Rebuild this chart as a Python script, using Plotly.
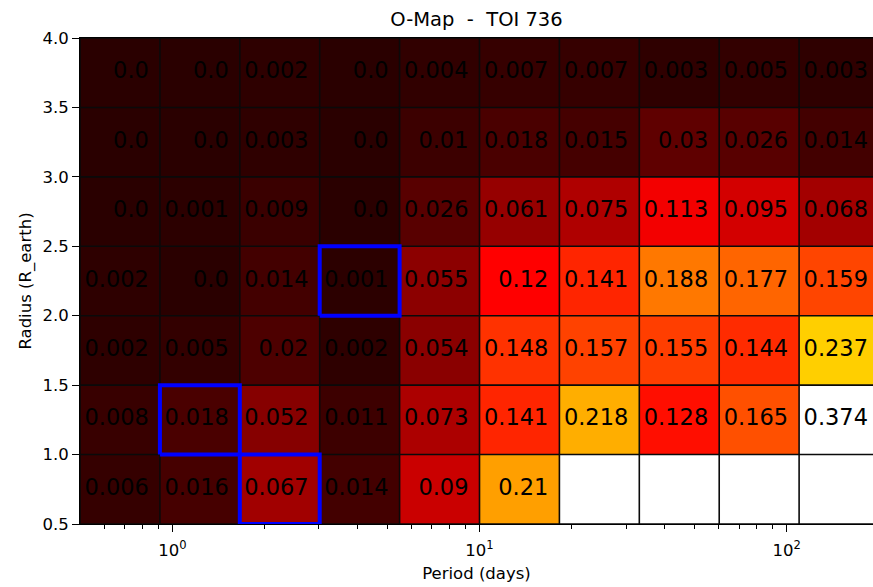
import numpy as np
import plotly.graph_objects as go

# ---- data ----
period_min = 0.5
period_max = 200.0
n_period_bins = 10
radius_edges = [0.5, 1.0, 1.5, 2.0, 2.5, 3.0, 3.5, 4.0]

# rows from bottom (0.5-1.0) to top (3.5-4.0); None = empty cell
row_0p5 = [0.006, 0.016, 0.067, 0.014, 0.09, 0.21, None, None, None, None]
row_1p0 = [0.008, 0.018, 0.052, 0.011, 0.073, 0.141, 0.218, 0.128, 0.165, 0.374]
row_1p5 = [0.002, 0.005, 0.02, 0.002, 0.054, 0.148, 0.157, 0.155, 0.144, 0.237]
row_2p0 = [0.002, 0.0, 0.014, 0.001, 0.055, 0.12, 0.141, 0.188, 0.177, 0.159]
row_2p5 = [0.0, 0.001, 0.009, 0.0, 0.026, 0.061, 0.075, 0.113, 0.095, 0.068]
row_3p0 = [0.0, 0.0, 0.003, 0.0, 0.01, 0.018, 0.015, 0.03, 0.026, 0.014]
row_3p5 = [0.0, 0.0, 0.002, 0.0, 0.004, 0.007, 0.007, 0.003, 0.005, 0.003]
z_rows = [row_0p5, row_1p0, row_1p5, row_2p0, row_2p5, row_3p0, row_3p5]

# highlighted cells: (period bin index, radius bin index)
highlight_cells = [(3, 3), (1, 1), (2, 0)]

x_tick_vals = [1, 10, 100]
x_tick_text = ["10<sup>0</sup>", "10<sup>1</sup>", "10<sup>2</sup>"]
y_tick_vals = [0.5, 1.0, 1.5, 2.0, 2.5, 3.0, 3.5, 4.0]
y_tick_text = ["0.5", "1.0", "1.5", "2.0", "2.5", "3.0", "3.5", "4.0"]

title_text = "O-Map  -  TOI 736"
x_label = "Period (days)"
y_label = "Radius (R_earth)"

# ---- build ----
period_edges = np.geomspace(period_min, period_max, n_period_bins + 1)
px_per_decade = 307.07
plot_w = 793
x_range = [np.log10(period_min), np.log10(period_min) + plot_w / px_per_decade]

hot = [
    [0.0, "rgb(10,0,0)"],
    [0.365079, "rgb(255,0,0)"],
    [0.746032, "rgb(255,255,0)"],
    [1.0, "rgb(255,255,255)"],
]

fig = go.Figure()
fig.add_trace(go.Heatmap(
    x=period_edges, y=radius_edges, z=z_rows,
    colorscale=hot, zmin=-0.018, zmax=0.36, showscale=False,
    hoverongaps=False,
))

# grid lines
gx, gy = [], []
for xe in period_edges:
    gx += [xe, xe, None]
    gy += [radius_edges[0], radius_edges[-1], None]
for ye in radius_edges:
    gx += [period_edges[0], period_edges[-1], None]
    gy += [ye, ye, None]
fig.add_trace(go.Scatter(x=gx, y=gy, mode="lines",
                         line=dict(color="#0a0a0a", width=1.6),
                         hoverinfo="skip", showlegend=False))

# cell labels (right aligned inside each cell)
offset = 10 ** (-11 / px_per_decade)
tx, ty, tt = [], [], []
for r, row in enumerate(z_rows):
    for c, v in enumerate(row):
        if v is None:
            continue
        tx.append(period_edges[c + 1] * offset)
        ty.append((radius_edges[r] + radius_edges[r + 1]) / 2)
        tt.append(str(round(v, 3)))
fig.add_trace(go.Scatter(x=tx, y=ty, text=tt, mode="text",
                         textposition="middle left", cliponaxis=False,
                         textfont=dict(family="DejaVu Sans", size=22.5, color="black"),
                         hoverinfo="skip", showlegend=False))

# highlight boxes
for c, r in highlight_cells:
    x0, x1 = period_edges[c], period_edges[c + 1]
    y0, y1 = radius_edges[r], radius_edges[r + 1]
    fig.add_trace(go.Scatter(x=[x0, x1, x1, x0, x0], y=[y0, y0, y1, y1, y0],
                             mode="lines", line=dict(color="#0000ff", width=4),
                             hoverinfo="skip", showlegend=False))

minor_vals = [0.6, 0.7, 0.8, 0.9] + list(range(2, 10)) + list(range(20, 100, 10)) + [200]

fig.update_layout(
    width=873, height=587,
    margin=dict(l=80, r=0, t=38, b=63, autoexpand=False),
    paper_bgcolor="white", plot_bgcolor="white",
    font=dict(family="DejaVu Sans", color="black", size=16),
    title=dict(text=title_text, x=0.5, xref="paper", xanchor="center",
               y=0.5, yref="container", yanchor="middle",
               font=dict(size=19.5, color="black")),
    showlegend=False,
)
# place title near top (container coords: centre at ~19 px from top)
fig.update_layout(title_y=1 - 19 / 587)
fig.update_xaxes(
    type="log", range=x_range, tickmode="array", tickvals=x_tick_vals, ticktext=x_tick_text,
    ticks="outside", ticklen=7, tickwidth=1, tickcolor="black",
    tickfont=dict(size=16.5), automargin=False, ticklabelstandoff=4,
    minor=dict(tickmode="array", tickvals=minor_vals, ticks="outside", ticklen=4,
               tickwidth=1, tickcolor="black", showgrid=False),
    showline=True, linecolor="black", linewidth=1, mirror=True,
    showgrid=False, zeroline=False,
    title=dict(text=x_label, font=dict(size=16.5), standoff=8),
)
fig.update_yaxes(
    range=[0.5, 4.0], tickmode="array", tickvals=y_tick_vals, ticktext=y_tick_text,
    ticks="outside", ticklen=7, tickwidth=1, tickcolor="black",
    tickfont=dict(size=16.5), automargin=False,
    showline=True, linecolor="black", linewidth=1,
    showgrid=False, zeroline=False,
    title=dict(text=y_label, font=dict(size=16.5), standoff=6),
)

fig.write_html(
    "out.html",
    config={"displayModeBar": False},
    post_script="document.body.style.margin='0';document.body.style.overflow='hidden';",
)
